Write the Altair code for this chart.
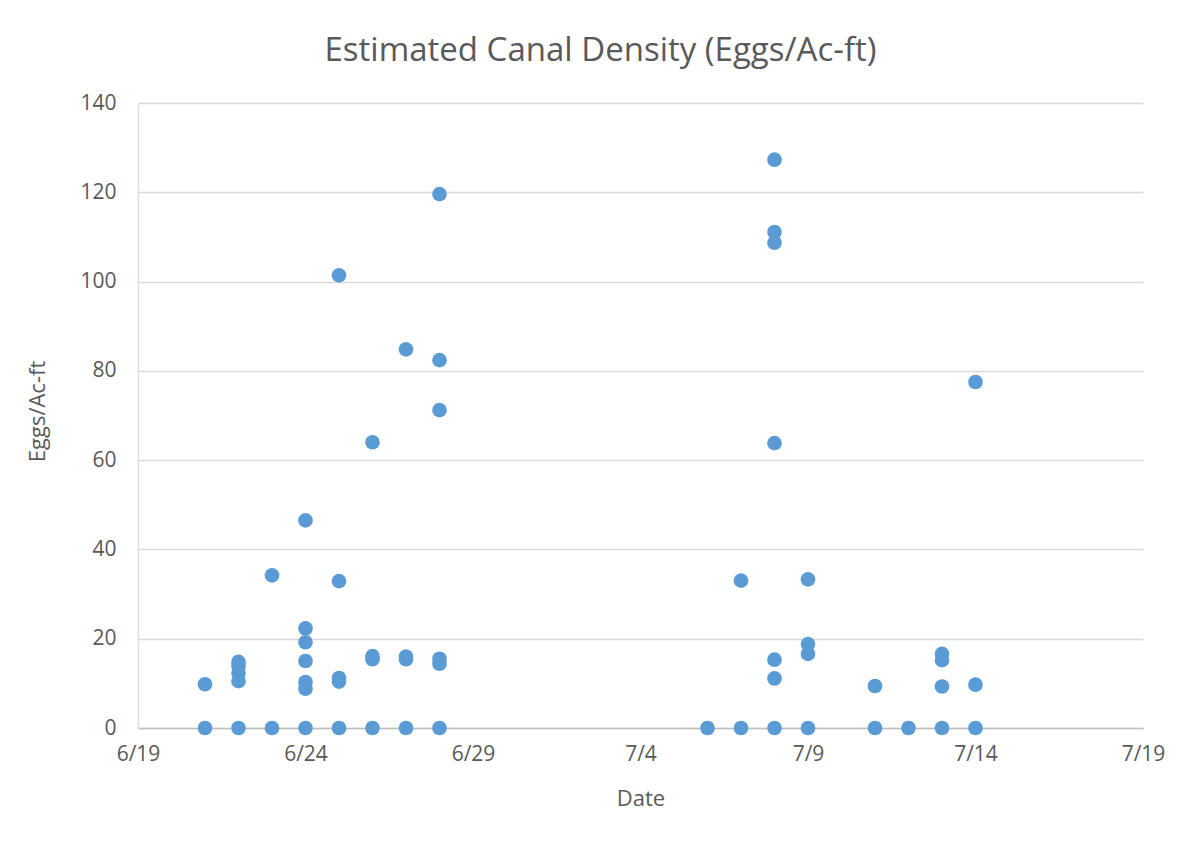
import altair as alt
import pandas as pd

dates = (
    ["2023-06-21"] * 2
    + ["2023-06-22"] * 5
    + ["2023-06-23"] * 2
    + ["2023-06-24"] * 7
    + ["2023-06-25"] * 5
    + ["2023-06-26"] * 4
    + ["2023-06-27"] * 4
    + ["2023-06-28"] * 6
    + ["2023-07-06"] * 1
    + ["2023-07-07"] * 2
    + ["2023-07-08"] * 7
    + ["2023-07-09"] * 4
    + ["2023-07-11"] * 2
    + ["2023-07-12"] * 1
    + ["2023-07-13"] * 4
    + ["2023-07-14"] * 3
)
values = (
    [0, 9.8]
    + [0, 14.8, 13.9, 12.3, 10.5]
    + [0, 34.2]
    + [0, 46.5, 22.3, 19.2, 15.0, 10.3, 8.8]
    + [0, 101.4, 32.9, 11.2, 10.4]
    + [0, 64.0, 16.1, 15.4]
    + [0, 84.8, 16.0, 15.4]
    + [0, 119.6, 82.4, 71.2, 15.5, 14.4]
    + [0]
    + [0, 33.0]
    + [0, 127.3, 111.1, 108.7, 63.8, 15.3, 11.1]
    + [0, 33.3, 18.8, 16.6]
    + [0, 9.4]
    + [0]
    + [0, 16.6, 15.2, 9.3]
    + [0, 77.5, 9.7]
)
tick_dates = [(6, 19), (6, 24), (6, 29), (7, 4), (7, 9), (7, 14), (7, 19)]
y_ticks = [0, 20, 40, 60, 80, 100, 120, 140]

df = pd.DataFrame({"Date": dates, "Eggs": values})

tick_vals = [alt.DateTime(year=2023, month=m, date=d, utc=True) for m, d in tick_dates]

FONT = "Open Sans"
TXT = "#595959"

chart = (
    alt.Chart(df)
    .mark_circle(size=215, color="#5b9bd5", opacity=1)
    .encode(
        x=alt.X(
            "Date:T",
            scale=alt.Scale(type="utc", domain=[tick_vals[0], tick_vals[-1]]),
            axis=alt.Axis(
                values=tick_vals,
                labelExpr="utcFormat(datum.value, '%-m/%-d')",
                title="Date",
                grid=False,
                ticks=False,
                labelFlush=False,
                domainColor="#bfbfbf",
                domainWidth=1.3,
                labelPadding=15,
                labelFontSize=21,
                labelColor=TXT,
                labelFont=FONT,
                titleFont=FONT,
                titleFontSize=22,
                titleFontWeight="normal",
                titleColor=TXT,
                titleY=70,
                titleBaseline="middle",
            ),
        ),
        y=alt.Y(
            "Eggs:Q",
            scale=alt.Scale(domain=[0, 140], nice=False),
            axis=alt.Axis(
                values=y_ticks,
                title="Eggs/Ac-ft",
                grid=True,
                gridColor="#d9d9d9",
                gridWidth=1.3,
                ticks=False,
                domainColor="#d9d9d9",
                domainWidth=1.3,
                labelPadding=22,
                labelFontSize=21,
                labelColor=TXT,
                labelFont=FONT,
                titleFont=FONT,
                titleFontSize=22,
                titleFontWeight="normal",
                titleColor=TXT,
                titleX=-101,
                titleY=308,
                titleAlign="center",
                titleBaseline="middle",
            ),
        ),
    )
    .properties(
        width=1005,
        height=625,
        title=alt.TitleParams(
            "Estimated Canal Density (Eggs/Ac-ft)",
            font=FONT,
            fontSize=33,
            fontWeight="normal",
            color=TXT,
            offset=24,
            dx=-40,
        ),
        autosize=alt.AutoSizeParams(type="none"),
        padding={"left": 130, "top": 95, "right": 30, "bottom": 105},
    )
    .configure_view(stroke=None)
)

chart.save("out.html", embed_options={"renderer": "svg", "actions": False})
